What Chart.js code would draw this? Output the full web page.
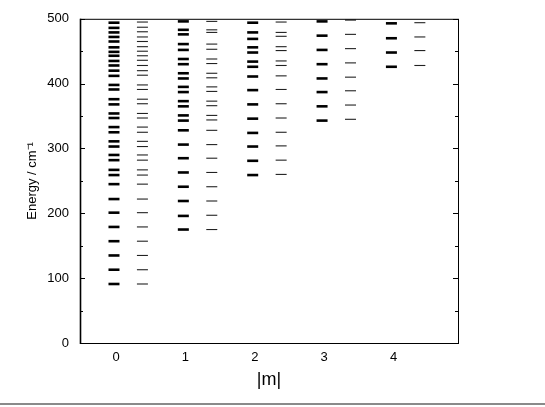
<!DOCTYPE html>
<html>
<head>
<meta charset="utf-8">
<script src="https://cdn.jsdelivr.net/npm/chart.js@4/dist/chart.umd.min.js"></script>
<style>
  html, body { margin: 0; padding: 0; background: #fff; }
  #wrap { position: relative; width: 545px; height: 407px; }
  #wrap .rule { position: absolute; left: 0; right: 0; top: 403px; height: 2px; background: #8a8a8a; }
</style>
</head>
<body>
<div id="wrap">
  <canvas id="myChart" width="545" height="407"></canvas>
  <div class="rule"></div>
</div>
<script>
// |m| categories on the x axis
const mLabels = ['0', '1', '2', '3', '4'];
const yTicks = [0, 100, 200, 300, 400, 500];

// energy levels (cm-1), thick column and thin column for every |m|
const m0Thick = [91, 113, 135, 157, 179, 201, 222, 245, 259, 267, 282, 290, 303, 311, 325, 333, 347, 354, 368, 376, 391, 398, 412, 420, 428, 435, 443, 449, 456, 465, 472, 479, 486, 494];
const m0Thin  = [91, 113, 135, 157, 179, 201, 222, 245, 259, 267, 282, 290, 303, 311, 325, 333, 347, 354, 369, 376, 391, 398, 413, 420, 428, 436, 443, 450, 457, 465, 472, 480, 487, 495];
const m1Thick = [175, 196, 219, 241, 263, 285, 306, 328, 343, 351, 365, 373, 387, 395, 408, 416, 430, 438, 452, 461, 476, 483, 496];
const m1Thin  = [175, 197, 219, 241, 263, 285, 306, 328, 344, 351, 366, 373, 388, 395, 409, 416, 431, 438, 453, 461, 479, 483, 496];
const m2Thick = [259, 281, 303, 324, 346, 368, 390, 411, 426, 434, 448, 456, 469, 479, 494];
const m2Thin  = [260, 282, 304, 325, 347, 369, 391, 412, 428, 435, 451, 457, 473, 479, 495];
const m3Thick = [343, 365, 387, 408, 430, 452, 474, 496];
const m3Thin  = [345, 367, 389, 410, 432, 454, 476, 498];
const m4Thick = [426, 448, 470, 493];
const m4Thin  = [428, 451, 472, 494];

const thickCols = [m0Thick, m1Thick, m2Thick, m3Thick, m4Thick];
const thinCols = [m0Thin, m1Thin, m2Thin, m3Thin, m4Thin];

function toPoints(cols, shift) {
    let pts = [];
    cols.forEach(function(levels, i) {
        levels.forEach(function(e) {
            pts.push({ x: Number(mLabels[i]) + shift, y: e });
        });
    });
    return pts;
}

const FONT = "'Liberation Sans', Arial, Helvetica, sans-serif";

// box round the plot plus the small inward ticks on both sides
const frame = {
    id: 'frame',
    afterDatasetsDraw(chart) {
        const { ctx, chartArea: a, scales: { y } } = chart;
        ctx.save();
        ctx.strokeStyle = '#000';
        ctx.lineWidth = 1;
        ctx.strokeRect(a.left + 0.5, a.top + 0.5, a.right - a.left, a.bottom - a.top);
        ctx.lineWidth = 1.6;
        ctx.beginPath();
        ctx.moveTo(a.left + 0.5, a.top);
        ctx.lineTo(a.left + 0.5, a.bottom + 1);
        ctx.stroke();
        ctx.lineWidth = 1;
        y.ticks.forEach(function(t) {
            const py = Math.round(y.getPixelForValue(t.value)) + 0.5;
            const len = (t.value % 100) ? 3 : 5;
            ctx.beginPath();
            ctx.moveTo(a.left, py); ctx.lineTo(a.left + len, py);
            ctx.moveTo(a.right, py); ctx.lineTo(a.right - len, py);
            ctx.stroke();
        });
        ctx.restore();
    }
};

const ctx = document.getElementById('myChart');
new Chart(ctx, {
    type: 'scatter',
    data: {
        datasets: [{
            data: toPoints(thickCols, -0.03),
            pointStyle: 'line',
            pointRadius: 5.5,
            borderColor: '#000',
            borderWidth: 2.6,
            clip: false
        }, {
            data: toPoints(thinCols, 0.38),
            pointStyle: 'line',
            pointRadius: 5.5,
            borderColor: '#222',
            borderWidth: 1.1,
            clip: false
        }]
    },
    plugins: [frame],
    options: {
        responsive: false,
        animation: false,
        events: [],
        layout: { padding: { left: 0, right: 87, top: 17, bottom: 0 } },
        plugins: { legend: { display: false }, tooltip: { enabled: false } },
        scales: {
            x: {
                type: 'linear',
                min: -0.52,
                max: 4.93,
                afterBuildTicks: (s) => { s.ticks = mLabels.map((m) => ({ value: Number(m) })); },
                afterFit: (s) => { s.height = 64; },
                grid: { display: false, drawTicks: false },
                border: { display: false },
                ticks: {
                    padding: 7,
                    color: '#000',
                    font: { family: FONT, size: 13 },
                    callback: (v) => String(v)
                },
                title: {
                    display: true,
                    text: '|m|',
                    color: '#000',
                    font: { family: FONT, size: 18 },
                    padding: { top: 0, bottom: 16 }
                }
            },
            y: {
                min: 0,
                max: 500,
                afterBuildTicks: (s) => {
                    let t = [];
                    yTicks.forEach(function(v, i) {
                        t.push({ value: v });
                        if (i < yTicks.length - 1) t.push({ value: (v + yTicks[i + 1]) / 2 });
                    });
                    s.ticks = t;
                },
                afterFit: (s) => { s.width = 80; },
                grid: { display: false, drawTicks: false },
                border: { display: false },
                ticks: {
                    padding: 11,
                    color: '#000',
                    font: { family: FONT, size: 13 },
                    callback: (v) => (yTicks.includes(v) ? String(v) : '')
                },
                title: {
                    display: true,
                    text: 'Energy / cm\u207B\u00B9',
                    color: '#000',
                    font: { family: FONT, size: 13 },
                    padding: { top: 25, bottom: 0 }
                }
            }
        }
    }
});
</script>
</body>
</html>
